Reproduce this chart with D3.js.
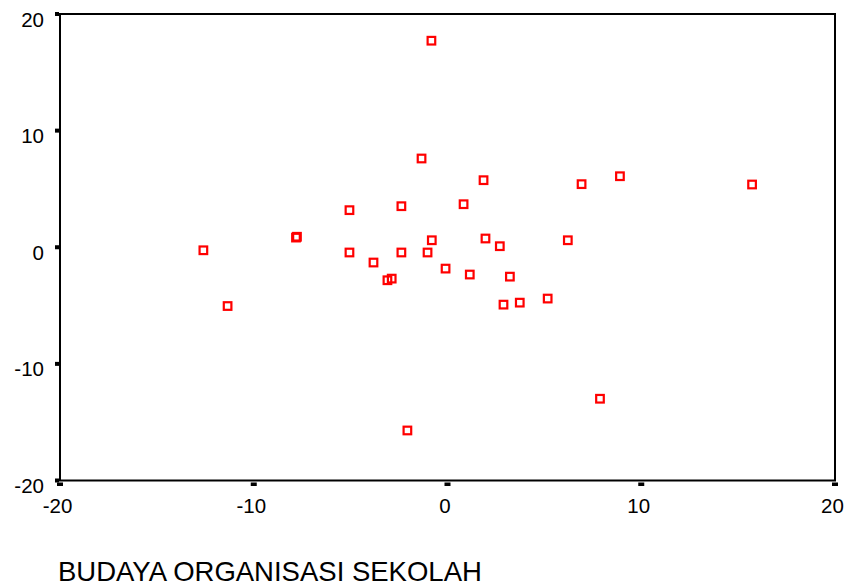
<!DOCTYPE html>
<html>
<head>
<meta charset="utf-8">
<script src="https://cdn.jsdelivr.net/npm/d3@7"></script>
<style>
  body { margin: 0; background: #fff; }
  text { font-family: Arial, "Liberation Sans", sans-serif; fill: #000; }
</style>
</head>
<body>
<div id="chart"></div>
<script>
// values
const xValues = [-0.83, -1.34, 1.86, 6.92, 8.90, 15.72, -5.06, -2.38, 0.83, -7.82, -7.77,
  -12.60, -5.06, -2.38, -0.81, -1.03, 1.96, 2.70, 6.21, -3.82, -0.10, 1.15, 3.22,
  -3.10, -2.88, -11.35, 2.89, 3.73, 5.17, 7.87, -2.07];
const yValues = [17.71, 7.61, 5.75, 5.41, 6.09, 5.38, 3.18, 3.52, 3.69, 0.83, 0.90,
  -0.26, -0.45, -0.45, 0.60, -0.45, 0.75, 0.09, 0.60, -1.31, -1.83, -2.34, -2.52,
  -2.83, -2.69, -5.04, -4.92, -4.75, -4.40, -12.99, -15.71];
const tickValues = [-20, -10, 0, 10, 20];
const xTitle = "BUDAYA ORGANISASI SEKOLAH";

const width = 851, height = 587;

const svg = d3.select("#chart")
  .append("svg")
    .attr("width", width)
    .attr("height", height);

const x = d3.scaleLinear().domain([-20, 20]).range([60, 835]);
const y = d3.scaleLinear().domain([-20, 20]).range([480.5, 14]);

// frame
svg.append("rect")
  .attr("x", x(-20))
  .attr("y", y(20))
  .attr("width", x(20) - x(-20))
  .attr("height", y(-20) - y(20))
  .attr("fill", "none")
  .attr("stroke", "#000")
  .attr("stroke-width", 2);

// y ticks (little blocks outside the frame)
svg.selectAll(".ytick")
  .data(tickValues)
  .enter()
  .append("rect")
    .attr("class", "ytick")
    .attr("x", x(-20) - 5)
    .attr("y", d => y(d) - 2)
    .attr("width", 4)
    .attr("height", 4)
    .attr("fill", "#000");

svg.selectAll(".ylabel")
  .data(tickValues)
  .enter()
  .append("text")
    .attr("class", "ylabel")
    .attr("x", 44)
    .attr("y", d => y(d) + 12.5)
    .attr("text-anchor", "end")
    .style("font-size", "20.5px")
    .text(d => d);

// x ticks
svg.selectAll(".xtick")
  .data(tickValues)
  .enter()
  .append("rect")
    .attr("class", "xtick")
    .attr("x", d => x(d) - 3)
    .attr("y", y(-20) + 2)
    .attr("width", 6)
    .attr("height", 3.5)
    .attr("fill", "#000");

svg.selectAll(".xlabel")
  .data(tickValues)
  .enter()
  .append("text")
    .attr("class", "xlabel")
    .attr("x", d => x(d) - 2.5)
    .attr("y", 513)
    .attr("text-anchor", "middle")
    .style("font-size", "20.5px")
    .text(d => d);

// axis title
svg.append("text")
  .attr("x", 58)
  .attr("y", 581)
  .style("font-size", "27.5px")
  .text(xTitle);

// points
const points = xValues.map((v, i) => ({ x: v, y: yValues[i] }));
svg.selectAll(".pt")
  .data(points)
  .enter()
  .append("rect")
    .attr("class", "pt")
    .attr("x", d => x(d.x) - 3.8)
    .attr("y", d => y(d.y) - 3.8)
    .attr("width", 7.6)
    .attr("height", 7.6)
    .attr("fill", "none")
    .attr("stroke", "#ff0000")
    .attr("stroke-width", 2.2);
</script>
</body>
</html>
